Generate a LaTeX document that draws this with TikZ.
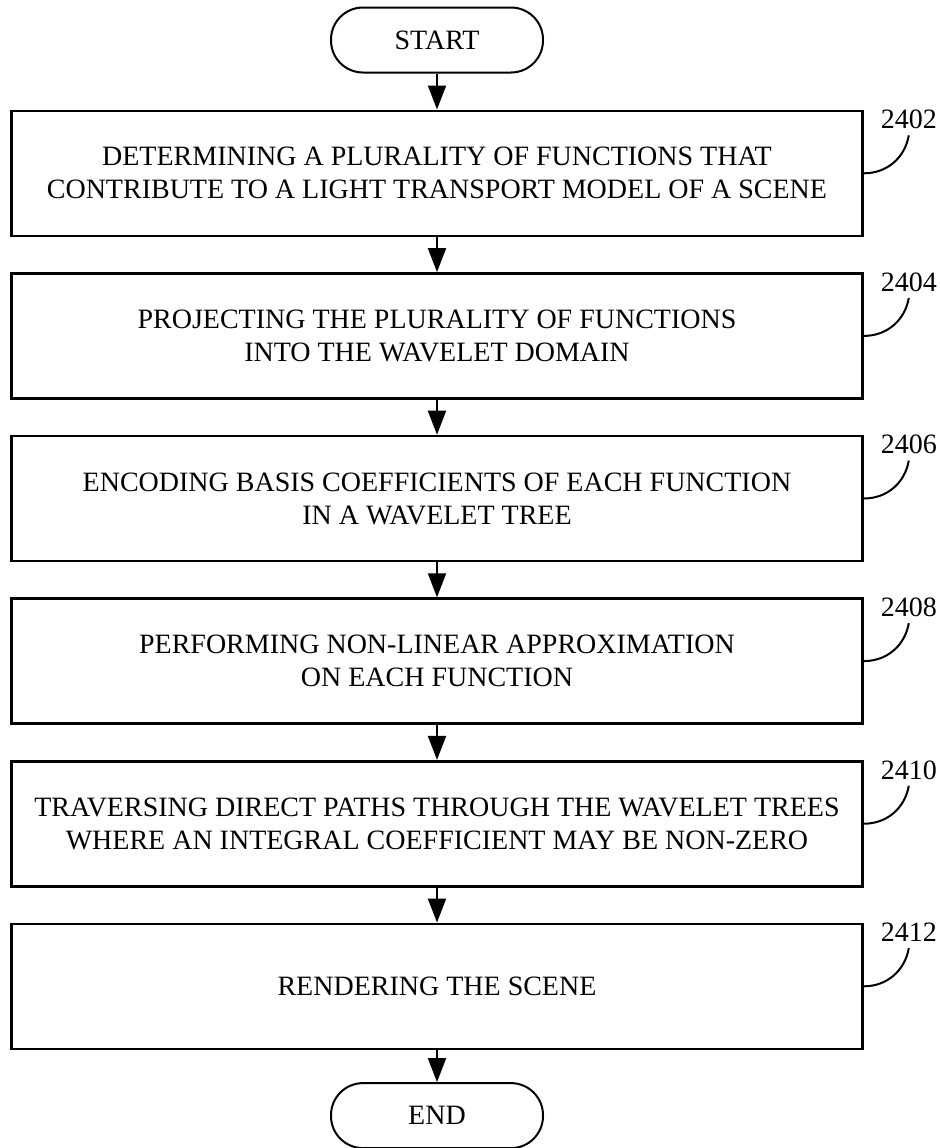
\documentclass[tikz,border=0pt]{standalone}
\usepackage{fontspec}
\setmainfont{Liberation Serif}
\usepackage{tikz}
\usetikzlibrary{arrows.meta}
\usetikzlibrary{positioning}

\tikzset{
  terminal/.style={draw, line width=1pt, rounded corners=16pt, minimum width=106pt, minimum height=32.5pt, inner sep=0pt, font=\fontsize{14pt}{16.5pt}\selectfont},
  stepbox/.style={draw, line width=1.3pt, minimum width=425.5pt, minimum height=62.5pt, align=center, inner sep=2pt, font=\fontsize{14pt}{16.5pt}\selectfont},
  reflabel/.style={inner sep=1pt, font=\fontsize{14pt}{16.5pt}\selectfont},
  flow/.style={line width=1pt, -{Triangle[length=12pt,width=9pt]}},
  leader/.style={line width=1pt},
}

\begin{document}
\begin{tikzpicture}[x=0.5pt,y=-0.5pt,node distance=17.5pt]
\useasboundingbox (0,0) rectangle (940,1148);

\node[terminal] (start) at (437,40) {START};
\node[stepbox, below=18pt of start] (s2402) {DETERMINING A PLURALITY OF FUNCTIONS THAT\\CONTRIBUTE TO A LIGHT TRANSPORT MODEL OF A SCENE};
\node[stepbox, below=of s2402] (s2404) {PROJECTING THE PLURALITY OF FUNCTIONS\\INTO THE WAVELET DOMAIN};
\node[stepbox, below=of s2404] (s2406) {ENCODING BASIS COEFFICIENTS OF EACH FUNCTION\\IN A WAVELET TREE};
\node[stepbox, below=of s2406] (s2408) {PERFORMING NON-LINEAR APPROXIMATION\\ON EACH FUNCTION};
\node[stepbox, below=of s2408] (s2410) {TRAVERSING DIRECT PATHS THROUGH THE WAVELET TREES\\WHERE AN INTEGRAL COEFFICIENT MAY BE NON-ZERO};
\node[stepbox, below=of s2410] (s2412) {RENDERING THE SCENE};
\node[terminal, below=16pt of s2412] (end) {END};

\node[reflabel] (l2402) at ([xshift=22.5pt,yshift=-5pt]s2402.north east) {2402};
\node[reflabel] (l2404) at ([xshift=22.5pt,yshift=-5pt]s2404.north east) {2404};
\node[reflabel] (l2406) at ([xshift=22.5pt,yshift=-5pt]s2406.north east) {2406};
\node[reflabel] (l2408) at ([xshift=22.5pt,yshift=-5pt]s2408.north east) {2408};
\node[reflabel] (l2410) at ([xshift=22.5pt,yshift=-5pt]s2410.north east) {2410};
\node[reflabel] (l2412) at ([xshift=22.5pt,yshift=-5pt]s2412.north east) {2412};

\draw[flow] (start) -- (s2402);
\draw[flow] (s2402) -- (s2404);
\draw[flow] (s2404) -- (s2406);
\draw[flow] (s2406) -- (s2408);
\draw[flow] (s2408) -- (s2410);
\draw[flow] (s2410) -- (s2412);
\draw[flow] (s2412) -- (end);

\draw[leader] (s2402.east) to[out=0,in=-100] ([yshift=-2pt]l2402.south);
\draw[leader] (s2404.east) to[out=0,in=-100] ([yshift=-2pt]l2404.south);
\draw[leader] (s2406.east) to[out=0,in=-100] ([yshift=-2pt]l2406.south);
\draw[leader] (s2408.east) to[out=0,in=-100] ([yshift=-2pt]l2408.south);
\draw[leader] (s2410.east) to[out=0,in=-100] ([yshift=-2pt]l2410.south);
\draw[leader] (s2412.east) to[out=0,in=-100] ([yshift=-2pt]l2412.south);
\end{tikzpicture}
\end{document}
